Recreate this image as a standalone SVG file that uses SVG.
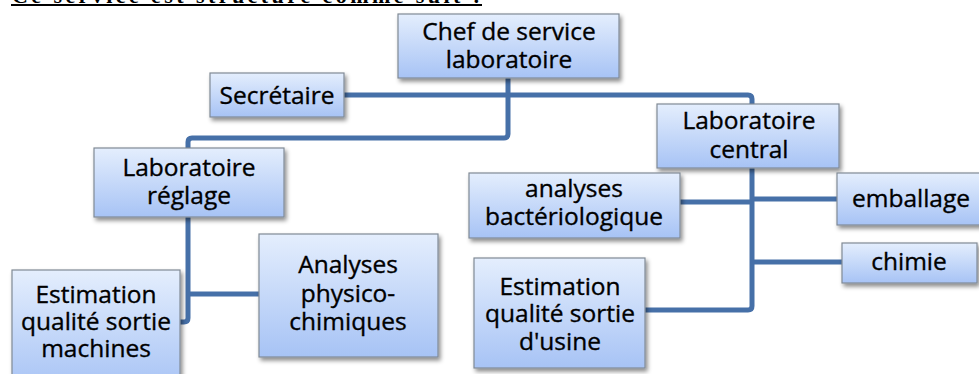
<svg xmlns="http://www.w3.org/2000/svg" width="979" height="374" viewBox="0 0 979 374">
<defs>
<linearGradient id="g" x1="0" y1="0" x2="0" y2="1">
<stop offset="0" stop-color="#e4eefd"/>
<stop offset="1" stop-color="#a7c3f5"/>
</linearGradient>
<filter id="sh" x="-10%" y="-10%" width="125%" height="135%">
<feDropShadow dx="2" dy="3" stdDeviation="2" flood-color="#000" flood-opacity="0.45"/>
</filter>
</defs>
<style>
.box{fill:url(#g);stroke:#808a96;stroke-width:1.2;filter:url(#sh)}
.t{font-family:"Open Sans","Liberation Sans",sans-serif;font-size:24.5px;fill:#000;stroke:#000;stroke-width:0.35;text-anchor:middle}
.c{fill:none;stroke:#4670a8;stroke-width:5;stroke-linejoin:round}
.title{font-family:"Liberation Serif",serif;font-weight:bold;font-size:22px;fill:#000}
</style>
<rect width="979" height="374" fill="#fff"/>
<g id="title">
<text class="title" x="12" y="3" textLength="468" lengthAdjust="spacing">Ce service est structuré comme suit :</text>
<line x1="11" y1="5" x2="482" y2="5" stroke="#000" stroke-width="2"/>
</g>
<g id="connectors">
<path class="c" d="M508,78 V134 Q508,138 504,138 H192 Q188,138 188,142 V148"/>
<path class="c" d="M344,95 H748 Q752,95 752,99 V104"/>
<path class="c" d="M188,217 V318 Q188,322 184,322 H180"/>
<path class="c" d="M188,294 H259"/>
<path class="c" d="M752,168 V306 Q752,310 748,310 H645"/>
<path class="c" d="M680,202 H752"/>
<path class="c" d="M752,199 H837"/>
<path class="c" d="M752,262 H842"/>
</g>
<g id="chef">
<rect class="box" x="398" y="14" width="221" height="64"/>
<text class="t" x="509" y="40">Chef de service</text>
<text class="t" x="509" y="68">laboratoire</text>
</g>
<g id="secretaire">
<rect class="box" x="210" y="73" width="134" height="44"/>
<text class="t" x="277" y="104">Secrétaire</text>
</g>
<g id="lab-reglage">
<rect class="box" x="94" y="148" width="190" height="69"/>
<text class="t" x="189" y="176">Laboratoire</text>
<text class="t" x="189" y="204">réglage</text>
</g>
<g id="lab-central">
<rect class="box" x="657" y="104" width="182" height="64"/>
<text class="t" x="749" y="129">Laboratoire</text>
<text class="t" x="749" y="158">central</text>
</g>
<g id="bacterio">
<rect class="box" x="469" y="173" width="211" height="65"/>
<text class="t" x="574" y="197">analyses</text>
<text class="t" x="574" y="225">bactériologique</text>
</g>
<g id="emballage">
<rect class="box" x="837" y="173" width="150" height="52"/>
<text class="t" x="911" y="207">emballage</text>
</g>
<g id="chimie">
<rect class="box" x="842" y="243" width="135" height="40"/>
<text class="t" x="909" y="270">chimie</text>
</g>
<g id="estim-usine">
<rect class="box" x="474" y="258" width="171" height="110"/>
<text class="t" x="560" y="295">Estimation</text>
<text class="t" x="560" y="322">qualité sortie</text>
<text class="t" x="560" y="350">d'usine</text>
</g>
<g id="analyses-physico">
<rect class="box" x="259" y="234" width="179" height="123"/>
<text class="t" x="348" y="273">Analyses</text>
<text class="t" x="348" y="302">physico-</text>
<text class="t" x="348" y="330">chimiques</text>
</g>
<g id="estim-machines">
<rect class="box" x="12" y="270" width="168" height="120"/>
<text class="t" x="96" y="303">Estimation</text>
<text class="t" x="96" y="330">qualité sortie</text>
<text class="t" x="96" y="357">machines</text>
</g>
</svg>
